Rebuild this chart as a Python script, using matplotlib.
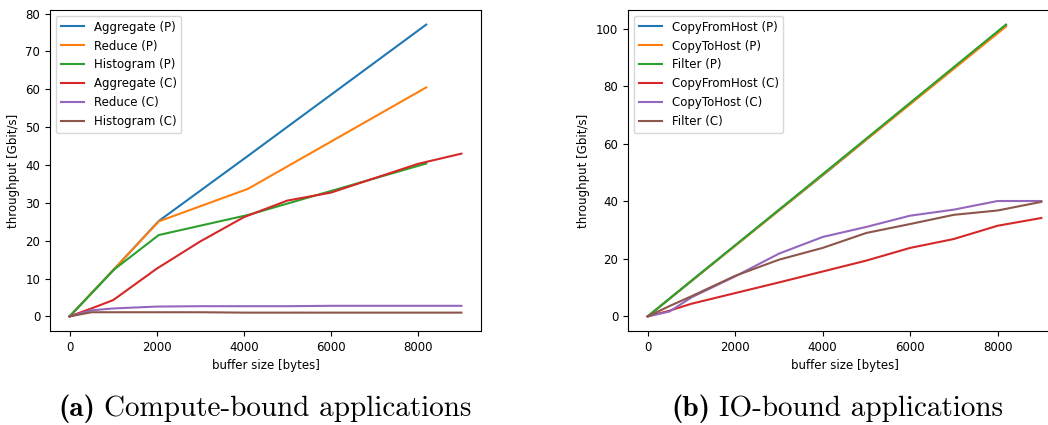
import matplotlib
matplotlib.use('Agg')
import matplotlib.pyplot as plt

plt.rcParams['font.size'] = 8.5

# x values (bytes)
x_p = [0, 1024, 2048, 4096, 8192]
x_c = [0, 500, 1000, 2000, 3000, 4000, 5000, 6000, 7000, 8000, 9000]

# (a) compute-bound
aggregate_p = [0, 12.5, 25.2, 42.4, 77.1]
reduce_p = [0, 12.5, 25.1, 33.7, 60.5]
histogram_p = [0, 12.4, 21.5, 26.8, 40.4]
aggregate_c = [0, 2.1, 4.3, 12.6, 19.8, 26.2, 30.6, 32.7, 36.5, 40.3, 43.0]
reduce_c = [0, 1.6, 2.1, 2.6, 2.7, 2.7, 2.7, 2.8, 2.8, 2.8, 2.8]
histogram_c = [0, 1.1, 1.1, 1.1, 1.1, 1.0, 1.0, 1.0, 1.0, 1.0, 1.0]

# (b) IO-bound
copyfrom_p = [0, 12.6, 25.2, 50.2, 101.2]
copyto_p = [0, 12.6, 25.1, 50.3, 100.7]
filter_p = [0, 12.7, 25.3, 50.6, 101.4]
copyfrom_c = [0, 2.0, 4.4, 8.1, 11.8, 15.6, 19.4, 23.8, 26.9, 31.5, 34.2]
copyto_c = [0, 1.7, 6.6, 13.9, 21.8, 27.6, 31.1, 35.0, 37.1, 40.1, 40.1]
filter_c = [0, 3.6, 7.0, 14.1, 19.7, 23.8, 29.0, 32.1, 35.3, 36.8, 39.8]

W, H = 1048, 425
fig = plt.figure(figsize=(W / 100, H / 100), dpi=100)

ax1 = fig.add_axes([50 / W, 1 - 331 / H, 431 / W, 321 / H])
ax1.plot(x_p, aggregate_p, label='Aggregate (P)')
ax1.plot(x_p, reduce_p, label='Reduce (P)')
ax1.plot(x_p, histogram_p, label='Histogram (P)')
ax1.plot(x_c, aggregate_c, label='Aggregate (C)')
ax1.plot(x_c, reduce_c, label='Reduce (C)')
ax1.plot(x_c, histogram_c, label='Histogram (C)')
ax1.set_xlabel('buffer size [bytes]')
ax1.set_ylabel('throughput [Gbit/s]')
ax1.legend(loc='upper left')

ax2 = fig.add_axes([628 / W, 1 - 331 / H, 433 / W, 321 / H])
ax2.plot(x_p, copyfrom_p, label='CopyFromHost (P)')
ax2.plot(x_p, copyto_p, label='CopyToHost (P)')
ax2.plot(x_p, filter_p, label='Filter (P)')
ax2.plot(x_c, copyfrom_c, label='CopyFromHost (C)')
ax2.plot(x_c, copyto_c, label='CopyToHost (C)')
ax2.plot(x_c, filter_c, label='Filter (C)')
ax2.set_xlabel('buffer size [bytes]')
ax2.set_ylabel('throughput [Gbit/s]')
ax2.legend(loc='upper left')

# subfigure captions: bold tag + roman text, centred under each panel
r = fig.canvas.get_renderer()
for cx, tag, txt in [(265, '(a)', 'Compute-bound applications'),
                     (837, '(b)', 'IO-bound applications')]:
    t1 = fig.text(0, 1 - 416 / H, tag, fontsize=21,
                  family=['cmb10', 'DejaVu Serif'], weight='bold', va='baseline')
    t2 = fig.text(0, 1 - 416 / H, txt, fontsize=21,
                  family=['cmr10', 'DejaVu Serif'], va='baseline')
    w1 = t1.get_window_extent(r).width
    w2 = t2.get_window_extent(r).width
    gap = 9
    x0 = cx - (w1 + gap + w2) / 2
    t1.set_x(x0 / W)
    t2.set_x((x0 + w1 + gap) / W)

fig.savefig('out.png', dpi=100)
